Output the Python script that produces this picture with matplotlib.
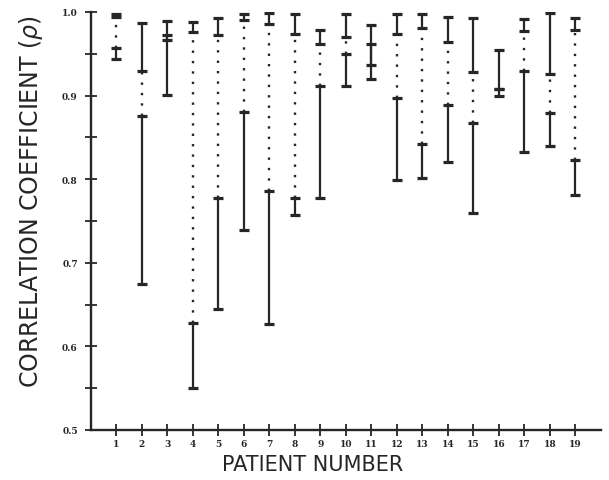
import numpy as np
import matplotlib.pyplot as plt
from matplotlib.ticker import MultipleLocator

#-Data-------------------------------------------------------------------------#

patients = np.arange(1, 20)
# upper interval (top, bottom) and lower interval (top, bottom) per patient #
upper_top = [0.998, 0.987, 0.989, 0.988, 0.993, 0.998, 0.999, 0.998, 0.978, 0.998,
             0.984, 0.998, 0.998, 0.994, 0.993, 0.954, 0.992, 0.999, 0.993]
upper_bot = [0.994, 0.930, 0.966, 0.976, 0.973, 0.991, 0.986, 0.974, 0.962, 0.970,
             0.936, 0.974, 0.981, 0.964, 0.928, 0.908, 0.977, 0.926, 0.979]
lower_top = [0.957, 0.875, 0.973, 0.628, 0.777, 0.880, 0.786, 0.777, 0.912, 0.950,
             0.962, 0.897, 0.842, 0.889, 0.867, 0.908, 0.929, 0.879, 0.823]
lower_bot = [0.944, 0.675, 0.901, 0.550, 0.645, 0.739, 0.627, 0.757, 0.777, 0.911,
             0.920, 0.799, 0.802, 0.821, 0.760, 0.900, 0.833, 0.840, 0.781]

yticks = [0.5, 0.6, 0.7, 0.8, 0.9, 1.0]
ytick_labels = ["0.5", "0.6", "0.7", "0.8", "0.9", "1.0"]

INK = "#262626"
TickFont = {"family": "DejaVu Serif", "size": 6.5, "weight": "bold"}

#-Figure---------------------------------------------------------------------#

fig = plt.figure(figsize=(6.09, 4.81), dpi=100)
ax = fig.add_axes([0.1494, 0.104, 0.8374, 0.869])

upper_top = np.array(upper_top)
upper_bot = np.array(upper_bot)
lower_top = np.array(lower_top)
lower_bot = np.array(lower_bot)

# dotted connection only where the two intervals do not overlap #
gap = upper_bot > lower_top
ax.vlines(patients[gap], lower_top[gap], upper_bot[gap], colors=INK,
          linewidth=1.7, linestyles=(0, (1, 3.4)))

ax.vlines(patients, upper_bot, upper_top, colors=INK, linewidth=1.6)
ax.vlines(patients, lower_bot, lower_top, colors=INK, linewidth=1.6)

for ys in (upper_top, upper_bot, lower_top, lower_bot):
    ax.plot(patients, ys, linestyle="none", marker="_", ms=7.5, mew=2.3, color=INK)

#-Axes styling---------------------------------------------------------------#

ax.set_xlim(0, 20)
ax.set_ylim(0.5, 1.0)
for side in ("top", "right"):
    ax.spines[side].set_visible(False)
for side in ("left", "bottom"):
    ax.spines[side].set_color(INK)
    ax.spines[side].set_linewidth(1.7)

ax.set_xticks(patients)
ax.set_xticklabels([str(p) for p in patients], fontdict=TickFont, color=INK)
ax.set_yticks(yticks)
ax.set_yticklabels(ytick_labels, fontdict=TickFont, color=INK)
ax.yaxis.set_minor_locator(MultipleLocator(0.05))
ax.tick_params(axis="both", which="both", direction="inout", color=INK,
               width=1.3, length=9)
ax.tick_params(axis="x", pad=2)
ax.tick_params(axis="y", pad=5)

ax.set_xlabel("PATIENT NUMBER", fontsize=15, color=INK)
ax.set_ylabel(r"CORRELATION COEFFICIENT ($\rho$)", fontsize=17, color=INK)
ax.xaxis.set_label_coords(0.435, -0.058)
ax.yaxis.set_label_coords(-0.09, 0.55)

fig.savefig("out.png", dpi=100)
